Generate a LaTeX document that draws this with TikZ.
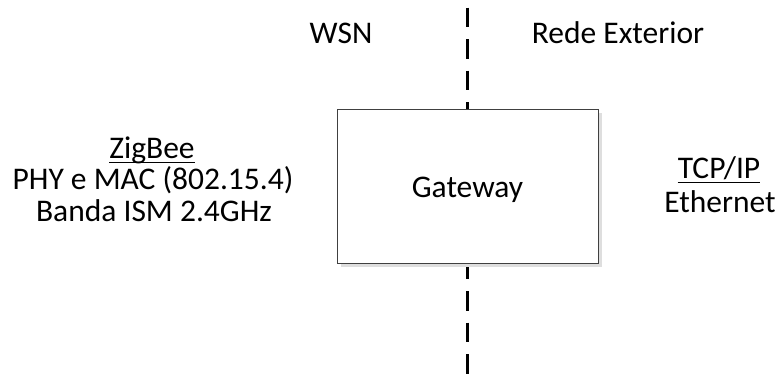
\documentclass[tikz,border=0pt]{standalone}
\usepackage{fontspec}
\setmainfont{Carlito}
\usetikzlibrary{shadows}

\begin{document}
\begin{tikzpicture}[line cap=butt,line join=miter,x=1pt,y=1pt,every node/.style={font=\fontsize{31.5}{36}\selectfont,inner sep=0pt}]
\useasboundingbox (0,0) rectangle (780,-376);
\coordinate (top) at (467.5,0);
\coordinate (bot) at (467.5,-376);
\draw [line width=2.5pt,dash pattern=on 19.5pt off 12pt,dash phase=24pt] (top)-- (bot);
\node (gw) [draw=black!75,line width=0.8pt,fill=white,minimum width=261pt,minimum height=154pt,drop shadow={shadow xshift=4pt,shadow yshift=-4pt,fill=black!13,opacity=1}] at (467.5,-186) {};
\node (gwtext) [anchor=base] at (467.5,-197) {Gateway};
\node (wsn) [anchor=base] at (341,-43) {WSN};
\node (rede) [anchor=base] at (618,-43) {Rede Exterior};
\node (zb) [anchor=base] at (152,-158) {ZigBee};
\node (phy) [anchor=base] at (153,-189.5) {PHY e MAC (802.15.4)};
\node (banda) [anchor=base] at (154,-221) {Banda ISM 2.4GHz};
\node (tcp) [anchor=base] at (719,-178) {TCP/IP};
\node (eth) [anchor=base] at (720,-212) {Ethernet};
\draw [line width=1.8pt] ([yshift=-4.5pt]zb.base west)-- ([yshift=-4.5pt]zb.base east);
\draw [line width=1.8pt] ([yshift=-4.5pt]tcp.base west)-- ([yshift=-4.5pt]tcp.base east);
\end{tikzpicture}
\end{document}
